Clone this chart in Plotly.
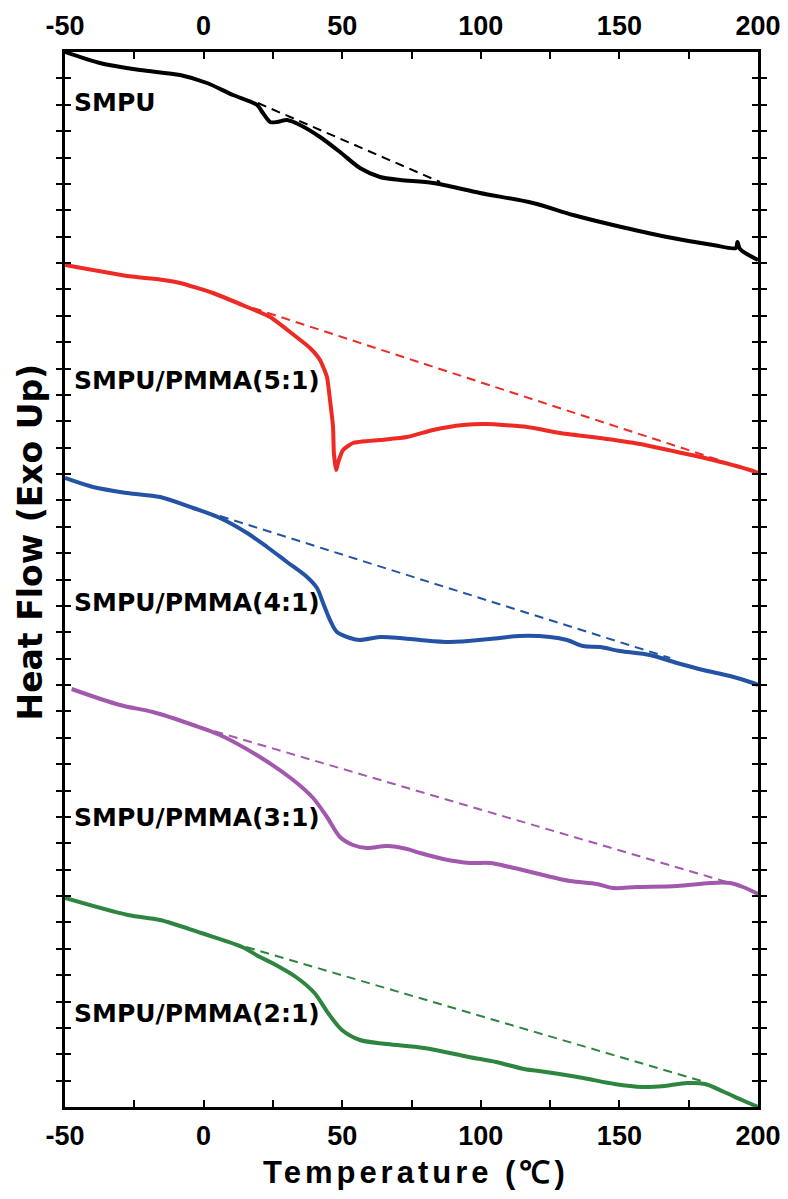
import plotly.graph_objects as go

# ---------------- data ----------------
# Heat flow in arbitrary units (Exo Up), temperature in °C
smpu_T = [-50, -37.4, -22.9, -8.5, 1.2, 10.6, 19.3, 21.4, 24.0, 26.5, 30.1, 34.8, 42.0, 49.2,
          56.4, 63.6, 70.9, 82.8, 99.7, 118.8, 133.3, 147.7, 167.2, 183.8, 192.0, 192.6, 193.5, 200]
smpu_H = [105.5, 104.4, 103.7, 103.2, 102.4, 101.2, 100.2, 99.4, 98.5, 98.5, 98.7, 98.2, 97.0, 95.5,
          93.9, 93.0, 92.7, 92.4, 91.4, 90.4, 89.2, 88.2, 87.0, 86.2, 85.9, 86.5, 85.8, 84.7]
smpu_base_T = [19.6, 85.3]
smpu_base_H = [100.4, 92.5]

p51_T = [-50, -27.6, -14.6, -8.5, 3.4, 15.7, 24.0, 31.2, 38.4, 42.0, 44.5, 45.6, 46.7, 47.0, 47.8,
         48.8, 50.3, 53.9, 63.6, 73.4, 82.8, 93.6, 102.2, 116.7, 128.6, 143.0, 157.4, 169.3, 183.8, 198.2, 200]
p51_H = [84.2, 83.1, 82.7, 82.4, 81.4, 80.0, 79.0, 77.5, 75.9, 74.7, 73.0, 70.7, 68.0, 65.4, 63.7,
         64.7, 65.7, 66.4, 66.7, 67.0, 67.7, 68.2, 68.3, 68.0, 67.4, 66.9, 66.3, 65.6, 64.7, 63.6, 63.4]
p51_base_T = [17.8, 187.0]
p51_base_H = [79.9, 64.6]

p41_T = [-50, -39.9, -27.6, -15.7, -3.8, 5.9, 15.7, 22.9, 30.1, 37.3, 40.9, 43.1, 45.6, 48.1, 52.8,
         56.4, 63.6, 70.9, 78.1, 88.9, 103.3, 114.1, 125.0, 131.1, 136.9, 143.0, 150.2, 161.0, 170.8,
         180.2, 189.9, 198.2, 200]
p41_H = [62.9, 62.0, 61.4, 61.0, 59.9, 58.9, 57.4, 56.0, 54.5, 53.0, 51.9, 50.4, 48.7, 47.5, 46.9,
         46.7, 47.0, 46.9, 46.7, 46.5, 46.8, 47.1, 47.0, 46.7, 46.1, 46.0, 45.6, 45.2, 44.4,
         43.7, 43.1, 42.4, 42.2]
p41_base_T = [5.9, 168.3]
p41_base_H = [59.1, 44.9]

p31_T = [-47.6, -30.2, -18.3, -3.8, 5.9, 20.3, 32.3, 39.5, 44.5, 49.2, 53.9, 58.9, 66.2, 73.4, 78.1,
         86.4, 96.1, 103.3, 110.5, 122.4, 132.2, 141.9, 147.7, 156.3, 170.8, 182.7, 189.9, 194.6, 200]
p31_H = [41.8, 40.2, 39.5, 38.2, 37.2, 35.0, 32.7, 30.9, 29.0, 27.0, 26.2, 25.9, 26.1, 25.8, 25.4,
         24.8, 24.4, 24.4, 24.0, 23.2, 22.6, 22.3, 21.9, 22.0, 22.1, 22.4, 22.4, 22.0, 21.3]
p31_base_T = [-1.3, 188.8]
p31_base_H = [38.0, 22.5]

p21_T = [-50, -27.3, -15.7, -0.9, 13.9, 20.3, 25.4, 33.3, 40.0, 44.9, 49.9, 56.4, 66.2, 79.5, 95.7,
         105.5, 115.6, 123.5, 136.9, 148.2, 158.2, 166.3, 174.4, 180.9, 187.8, 194.2, 200]
p21_H = [20.9, 19.2, 18.7, 17.4, 16.0, 15.0, 14.3, 13.0, 11.4, 9.4, 7.7, 6.7, 6.3, 5.9, 5.0,
         4.5, 3.8, 3.5, 2.9, 2.3, 2.0, 2.1, 2.4, 2.3, 1.5, 0.7, 0.0]
p21_base_T = [15.3, 180.9]
p21_base_H = [16.0, 2.5]

labels = ["SMPU", "SMPU/PMMA(5:1)", "SMPU/PMMA(4:1)", "SMPU/PMMA(3:1)", "SMPU/PMMA(2:1)"]
label_H = [100.5, 72.7, 50.5, 29.0, 9.4]
colors = ["#000000", "#ee2a24", "#2453a6", "#a259ad", "#2e8540"]
smoothing = [0.8, 0.5, 0.9, 0.9, 0.9]

x_ticks = [-50, 0, 50, 100, 150, 200]

# ---------------- figure ----------------
series = [
    (smpu_T, smpu_H, smpu_base_T, smpu_base_H),
    (p51_T, p51_H, p51_base_T, p51_base_H),
    (p41_T, p41_H, p41_base_T, p41_base_H),
    (p31_T, p31_H, p31_base_T, p31_base_H),
    (p21_T, p21_H, p21_base_T, p21_base_H),
]

fig = go.Figure()
for (T, H, bT, bH), c, name, sm in zip(series, colors, labels, smoothing):
    fig.add_trace(go.Scatter(x=bT, y=bH, mode="lines", name=name + " baseline",
                             line=dict(color=c, width=2, dash="9px,6px"), showlegend=False))
    fig.add_trace(go.Scatter(x=T, y=H, mode="lines", name=name,
                             line=dict(color=c, width=4, shape="spline", smoothing=sm),
                             showlegend=False))

# invisible trace to carry the top axis
fig.add_trace(go.Scatter(x=[-50, 200], y=[0, 0], xaxis="x2", mode="lines",
                         line=dict(width=0), hoverinfo="skip", showlegend=False, opacity=0))

tick_font = dict(family="Liberation Sans, Arial, sans-serif", size=27, color="black", weight="bold")
axis_common = dict(range=[-50, 200], tickmode="array", tickvals=x_ticks,
                   ticktext=[str(v) for v in x_ticks], ticks="inside", ticklen=7, tickwidth=2,
                   tickcolor="black", showline=True, linewidth=2.5, linecolor="black",
                   showgrid=False, zeroline=False, tickfont=tick_font, automargin=False,
                   minor=dict(tickmode="array", tickvals=[-25, 25, 75, 125, 175], ticks="inside",
                              ticklen=7, tickwidth=2, tickcolor="black"))

# the page body adds an 8 px offset, so the figure is 8 px smaller than the window
fig.update_layout(
    width=780, height=1191,
    margin=dict(l=57, r=30, t=44, b=92, autoexpand=False),
    paper_bgcolor="white", plot_bgcolor="white",
    xaxis=dict(**axis_common, side="bottom", mirror=True, ticklabelstandoff=3),
    xaxis2=dict(**axis_common, side="top", overlaying="x", ticklabelstandoff=3),
    yaxis=dict(range=[0, 105.5], tick0=0, dtick=2.6375, ticks="inside", ticklen=6, tickwidth=2,
               tickcolor="black", showticklabels=False, showline=True, linewidth=2.5,
               linecolor="black", mirror="allticks", showgrid=False, zeroline=False,
               automargin=False),
    font=dict(family="DejaVu Sans, sans-serif", color="black"),
)

for name, h in zip(labels, label_H):
    fig.add_annotation(x=-47.3, y=h, xref="x", yref="y", text="<b>" + name + "</b>",
                       showarrow=False, xanchor="left", yanchor="middle",
                       font=dict(family="DejaVu Sans, sans-serif", size=25, color="black"))

fig.add_annotation(x=-0.05, y=0.5355, xref="paper", yref="paper",
                   text="<b>Heat Flow (Exo Up)</b>", textangle=-90, showarrow=False,
                   xanchor="center", yanchor="middle",
                   font=dict(family="DejaVu Sans, sans-serif", size=33, color="black"))

fig.add_annotation(x=0.506, y=-0.062, xref="paper", yref="paper",
                   text='<b><span style="letter-spacing:4px">Temperature (℃)</span></b>',
                   showarrow=False, xanchor="center", yanchor="middle",
                   font=dict(family="Liberation Sans, Arial, sans-serif", size=31, color="black"))

fig.write_html("out.html")
